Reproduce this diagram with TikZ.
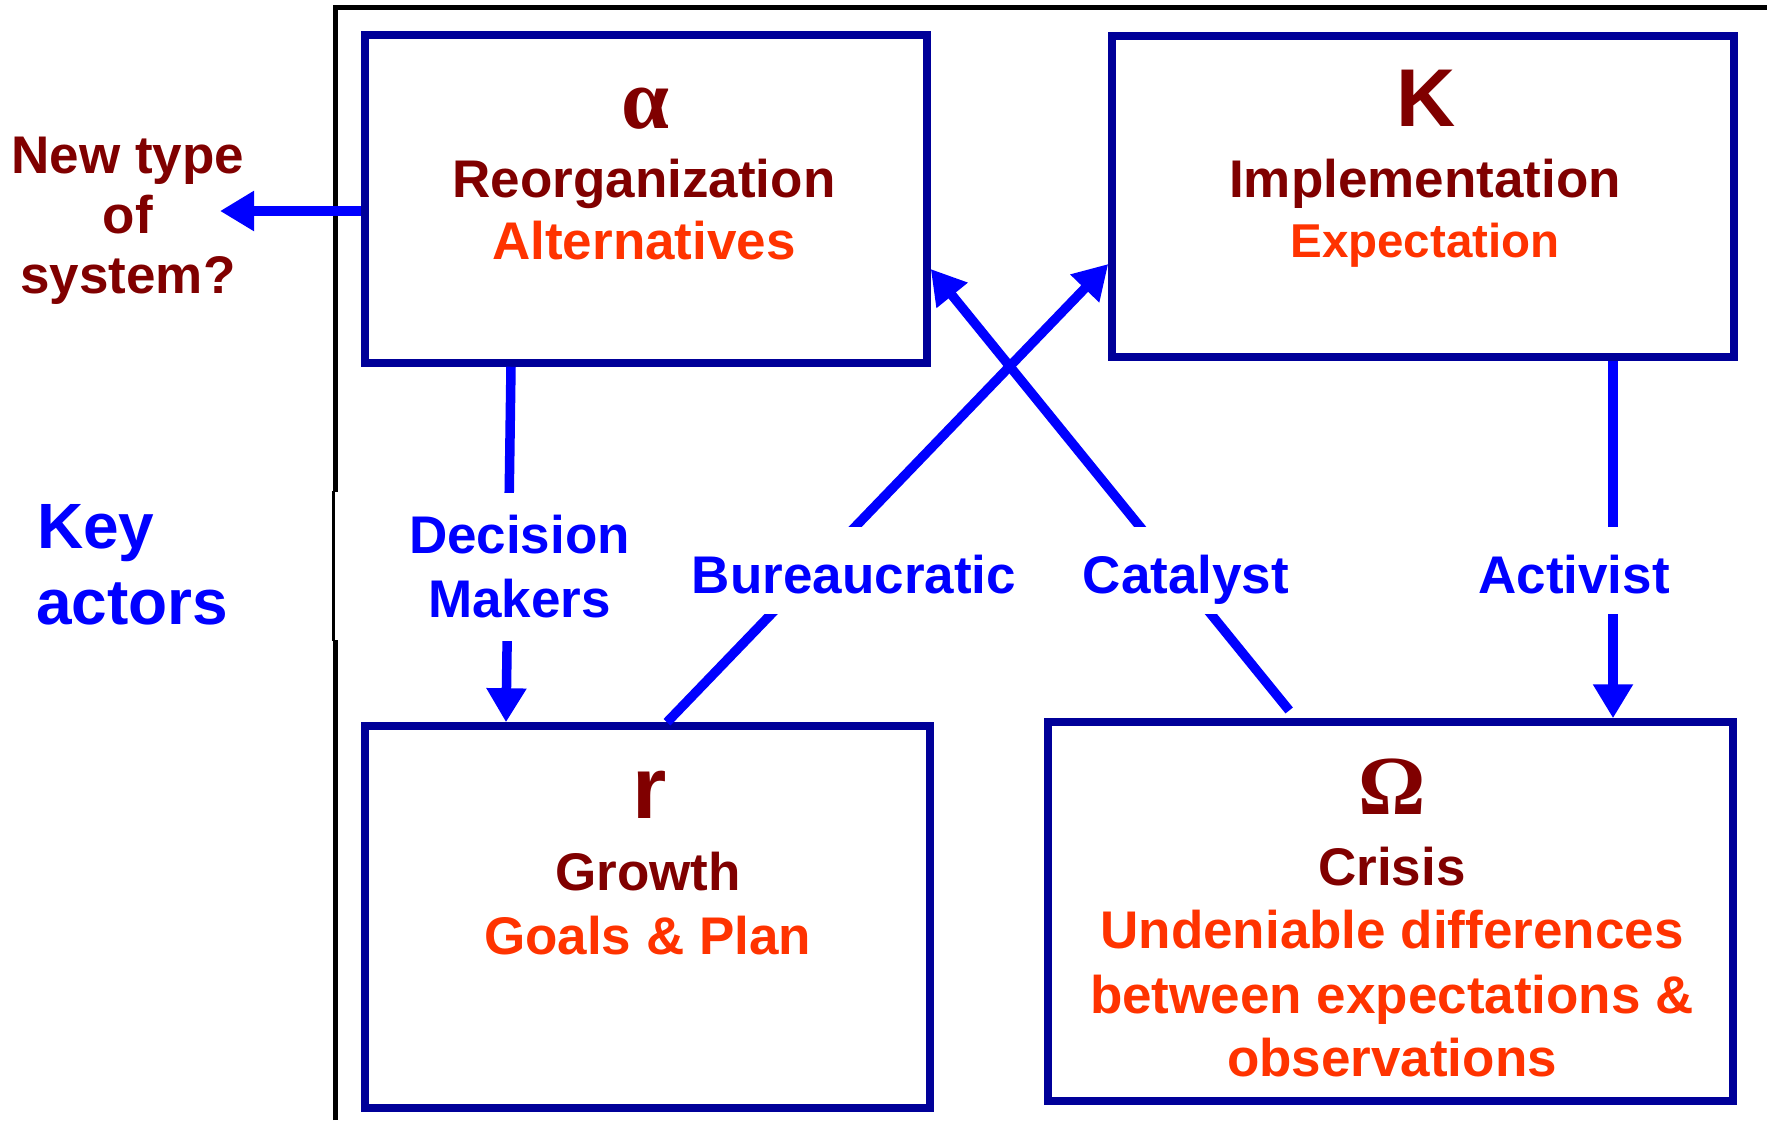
\documentclass[tikz,border=0pt]{standalone}
\usepackage{fontspec}
\setmainfont{Liberation Sans}
\newfontfamily\greekfont{Liberation Serif}
\usetikzlibrary{arrows.meta}

\definecolor{phaseRed}{HTML}{800000}
\definecolor{accent}{HTML}{FF3300}
\definecolor{actorBlue}{HTML}{0000FF}
\definecolor{frameNavy}{HTML}{000099}

\newcommand{\txtsize}[2]{\fontsize{#1pt}{#2pt}\selectfont}

\tikzset{
  phasebox/.style={draw=frameNavy, line width=7.5pt, rectangle, inner sep=0pt},
  conn/.style={draw=actorBlue, line width=9.5pt},
  arr/.style={conn, -{Triangle[length=34pt,width=38pt]}},
  phasename/.style={text=phaseRed, font=\bfseries\txtsize{53}{64}, anchor=base, inner sep=0pt},
  phasenote/.style={text=accent, font=\bfseries\txtsize{53}{64}, anchor=base, inner sep=0pt},
  symbol/.style={text=phaseRed, anchor=base, inner sep=0pt},
  actor/.style={text=actorBlue, font=\bfseries\txtsize{53}{64}, fill=white,
    inner xsep=6pt, inner ysep=0pt, text height=66pt, text depth=21pt, anchor=base}
}

\begin{document}
\begin{tikzpicture}[x=1pt, y=-1pt]
\useasboundingbox (0,0) rectangle (1767,1120);

% outer frame
\draw[line width=5pt] (335,1120) -- (335,640);
\draw[line width=2.3pt] (333.6,641) -- (333.6,491);
\draw[line width=5pt] (335,492) -- (335,7) -- (1767,7);

% the four phases
\node[phasebox, minimum width=562pt, minimum height=328pt] (alpha) at (646,199) {};
\node[phasebox, minimum width=622pt, minimum height=321pt] (K) at (1423,196.5) {};
\node[phasebox, minimum width=565pt, minimum height=382pt] (r) at (647.5,917) {};
\node[phasebox, minimum width=685pt, minimum height=379pt] (Om) at (1390.5,911.5) {};

% reorganization
\node[symbol, font=\greekfont\bfseries\txtsize{86}{90}] (alphaSym) at (645.5,128) {α};
\node[phasename] (alphaName) at (644,197) {Reorganization};
\node[phasenote] (alphaNote) at (644,259) {Alternatives};

% implementation
\node[symbol, font=\bfseries\txtsize{82}{90}] (KSym) at (1426,126) {K};
\node[phasename] (KName) at (1425,197) {Implementation};
\node[phasenote, font=\bfseries\txtsize{47.5}{60}] (KNote) at (1425,257) {Expectation};

% growth
\node[symbol, font=\bfseries\txtsize{88}{90}] (rSym) at (650,818) {r};
\node[phasename] (rName) at (648,890) {Growth};
\node[phasenote] (rNote) at (647.5,954) {Goals \& Plan};

% crisis
\node[symbol, font=\greekfont\bfseries\txtsize{84}{90}] (OmSym) at (1392,814) {Ω};
\node[phasename] (OmName) at (1392,885) {Crisis};
\node[phasenote] (OmNoteA) at (1392,948) {Undeniable differences};
\node[phasenote] (OmNoteB) at (1392,1013) {between expectations \&};
\node[phasenote] (OmNoteC) at (1392,1076) {observations};

% exit from the cycle
\node[phasename] (newA) at (128,173) {New type};
\node[phasename] (newB) at (128,233) {of};
\node[phasename] (newC) at (128,293) {system?};
\coordinate (newTip) at (220,211);

% key actors heading
\node[text=actorBlue, font=\bfseries\txtsize{64}{76}, anchor=base west, inner sep=0pt] (keyA) at (37,548) {Key};
\node[text=actorBlue, font=\bfseries\txtsize{64}{76}, anchor=base west, inner sep=0pt] (keyB) at (36,624) {actors};

% connectors between phases
\draw[arr] (alpha.west |- 0,211) -- (newTip);
\draw[arr] (alpha.south -| 511,0) -- (r.north -| 506,0);
\draw[arr] (r.north -| 667,0) -- (K.west |- 0,264);
\draw[arr, shorten <=10pt] (Om.north -| 1295.5,0) -- (alpha.east |- 0,269);
\draw[arr] (K.south -| 1613,0) -- (Om.north -| 1613,0);

% actor labels on the connectors
\node[text=actorBlue, font=\bfseries\txtsize{53}{64}, fill=white, align=center,
  inner xsep=6pt, inner ysep=0pt, minimum height=148pt] (dm) at (519.5,567) {Decision\\Makers};
\node[actor] (bur) at (854,593) {Bureaucratic};
\node[actor] (cat) at (1186,593) {Catalyst};
\node[actor] (act) at (1574,593) {Activist};
\end{tikzpicture}
\end{document}
